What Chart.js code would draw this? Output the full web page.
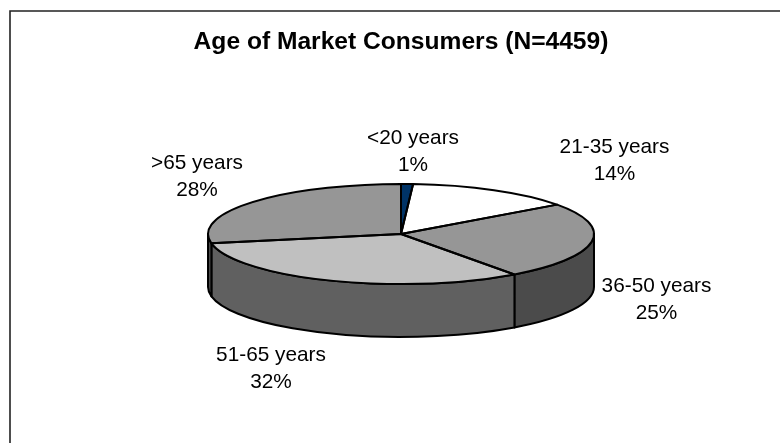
<!DOCTYPE html>
<html>
<head>
<meta charset="utf-8">
<title>Age of Market Consumers</title>
<script src="https://cdn.jsdelivr.net/npm/chart.js@4/dist/chart.umd.min.js"></script>
<style>
    html, body { margin: 0; padding: 0; background: #fff; }
    canvas { display: block; }
</style>
</head>
<body>
<canvas id="piechart" width="780" height="443"></canvas>
<script>
var titleText = 'Age of Market Consumers (N=4459)';
var categories = ['<20 years', '21-35 years', '36-50 years', '51-65 years', '>65 years'];
var shares = [1, 14, 25, 32, 28];
var topColors = ['#003366', '#ffffff', '#969696', '#c0c0c0', '#969696'];
var sideColors = ['#001933', '#808080', '#4b4b4b', '#606060', '#4b4b4b'];

// centre of each two line label, and the baseline of its first line
var labelSpots = [[413, 144], [614.5, 153], [656.5, 292], [271, 360.5], [197, 169]];

var pieCenterY = 234;
var tilt = 50 / 193;
var depth = 53;
var edgeWidth = 2;
var labelFont = '20.8px "Liberation Sans", Arial, sans-serif';

// flattens the pie to an ellipse and gives it a wall
var tiltedPie = {
    id: 'tiltedPie',
    beforeDraw: function(chart) {
        var ctx = chart.ctx;
        ctx.save();
        ctx.strokeStyle = '#222';
        ctx.lineWidth = 1.6;
        ctx.beginPath();
        ctx.moveTo(780, 11);
        ctx.lineTo(10, 11);
        ctx.lineTo(10, 443);
        ctx.stroke();
        ctx.restore();
    },
    beforeDatasetsDraw: function(chart) {
        var ctx = chart.ctx;
        var arcs = chart.getDatasetMeta(0).data;
        var cx = arcs[0].x;
        var rx = arcs[0].outerRadius;
        var ry = rx * tilt;

        ctx.save();
        ctx.lineWidth = edgeWidth;
        ctx.strokeStyle = '#000';
        ctx.lineJoin = 'round';
        arcs.forEach(function(arc, i) {
            // angles of the front half only
            var a0 = Math.max(arc.startAngle, 0);
            var a1 = Math.min(arc.endAngle, Math.PI);
            if (a1 <= a0) return;
            ctx.beginPath();
            ctx.ellipse(cx, pieCenterY, rx, ry, 0, a0, a1);
            ctx.ellipse(cx, pieCenterY + depth, rx, ry, 0, a1, a0, true);
            ctx.closePath();
            ctx.fillStyle = sideColors[i];
            ctx.fill();
            ctx.stroke();
        });
        ctx.restore();

        ctx.save();
        ctx.translate(0, pieCenterY);
        ctx.scale(1, tilt);
        ctx.translate(0, -arcs[0].y);
    },
    afterDatasetsDraw: function(chart) {
        var ctx = chart.ctx;
        ctx.restore();

        var arcs = chart.getDatasetMeta(0).data;
        ctx.save();
        ctx.lineWidth = edgeWidth;
        ctx.strokeStyle = '#000';
        ctx.lineJoin = 'round';
        arcs.forEach(function(arc) {
            ctx.beginPath();
            ctx.moveTo(arc.x, pieCenterY);
            ctx.ellipse(arc.x, pieCenterY, arc.outerRadius, arc.outerRadius * tilt, 0, arc.startAngle, arc.endAngle);
            ctx.closePath();
            ctx.stroke();
        });

        ctx.fillStyle = '#000';
        ctx.font = labelFont;
        ctx.textAlign = 'center';
        ctx.textBaseline = 'alphabetic';
        categories.forEach(function(name, i) {
            ctx.fillText(name, labelSpots[i][0], labelSpots[i][1]);
            ctx.fillText(shares[i] + '%', labelSpots[i][0], labelSpots[i][1] + 27);
        });
        ctx.restore();
    }
};

var ctx = document.getElementById('piechart').getContext('2d');
window.myPie = new Chart(ctx, {
    type: 'pie',
    data: {
        labels: categories,
        datasets: [{
            data: shares,
            backgroundColor: topColors,
            borderWidth: 0
        }]
    },
    options: {
        responsive: false,
        animation: false,
        events: [],
        layout: {
            padding: { left: 22 }
        },
        plugins: {
            legend: { display: false },
            tooltip: { enabled: false },
            title: {
                display: true,
                text: titleText,
                color: '#000',
                font: { family: '"Liberation Sans", Arial, sans-serif', size: 24.6, weight: 'bold' },
                padding: { top: 27, bottom: 0.5 }
            }
        }
    },
    plugins: [tiltedPie]
});
</script>
</body>
</html>
